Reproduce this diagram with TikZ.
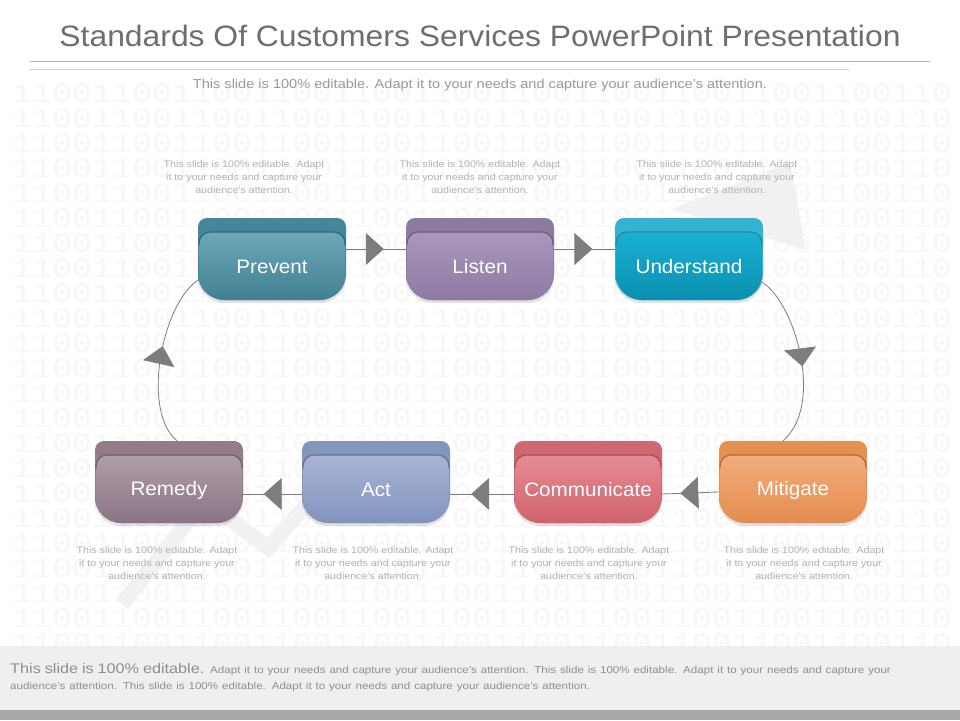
\documentclass[tikz,border=0pt]{standalone}
\usepackage{fontspec}
\setmainfont{Liberation Sans}
\newfontfamily\bitfont{Liberation Mono}
\usetikzlibrary{arrows.meta,decorations.markings,shadows}

\definecolor{titlegray}{HTML}{6E6E6E}
\definecolor{subgray}{HTML}{9A9A9A}
\definecolor{notegray}{HTML}{B2B2B2}
\definecolor{linkgray}{HTML}{7D7D7D}
\definecolor{footlight}{HTML}{EFEFEF}
\definecolor{footdark}{HTML}{A9A7A8}
\definecolor{footgray}{HTML}{8E8E8E}
\definecolor{trendgray}{HTML}{F1F1F1}

\definecolor{prevband}{HTML}{45879A}
\definecolor{prevlight}{HTML}{6CA8B9}
\definecolor{prevdark}{HTML}{437F92}
\definecolor{listband}{HTML}{8C7A9F}
\definecolor{listlight}{HTML}{AA98BC}
\definecolor{listdark}{HTML}{8D79A2}
\definecolor{undband}{HTML}{34B2D1}
\definecolor{undlight}{HTML}{19B1D3}
\definecolor{unddark}{HTML}{0B8FAF}
\definecolor{remband}{HTML}{937B8A}
\definecolor{remlight}{HTML}{B09EAA}
\definecolor{remdark}{HTML}{8B7383}
\definecolor{actband}{HTML}{8596BD}
\definecolor{actlight}{HTML}{A8B4D4}
\definecolor{actdark}{HTML}{8393BE}
\definecolor{comband}{HTML}{D06872}
\definecolor{comlight}{HTML}{E68B93}
\definecolor{comdark}{HTML}{D0626D}
\definecolor{mitband}{HTML}{E4904F}
\definecolor{mitlight}{HTML}{F2AD7C}
\definecolor{mitdark}{HTML}{E58C50}

% one coloured card: name, x, y, colour stem, label
\newcommand{\stepcard}[5]{%
  \path[fill=#4band, drop shadow={shadow xshift=0pt, shadow yshift=-3pt, opacity=0.22}]
    (#2-74,#3) [rounded corners=9pt] -- (#2-74,#3-41) -- (#2+74,#3-41) -- (#2+74,#3)
    [rounded corners=26pt] -- (#2+74,#3+41) -- (#2-74,#3+41) -- cycle;
  \path[top color=#4light, bottom color=#4dark]
    (#2-73,#3) [rounded corners=11pt] -- (#2-73,#3-27) -- (#2+73,#3-27) -- (#2+73,#3)
    [rounded corners=26pt] -- (#2+73,#3+41) -- (#2-73,#3+41) -- cycle;
  \draw[#4band!75!black, line width=1.2pt]
    (#2-73,#3-14) [rounded corners=11pt] -- (#2-73,#3-27) -- (#2+73,#3-27) -- (#2+73,#3-14);
  \node[cardslot] (#1) at (#2,#3) {};
  \node[cardtext] (#1-txt) at (#2,#3+8) {#5};
}

\begin{document}
\begin{tikzpicture}[x=1pt, y=-1pt,
    cardslot/.style={rectangle, minimum width=148pt, minimum height=82pt, inner sep=0pt},
    cardtext/.style={text=white, font=\fontsize{19.5}{22}\selectfont, xscale=1.06},
    note/.style={text=notegray, font=\fontsize{9.5}{13}\selectfont, align=center, xscale=1.12},
    bits/.style={text=black!3, font=\bitfont\fontsize{28}{28}\selectfont, anchor=west, inner sep=0pt, xscale=1.19},
    link/.style={draw=linkgray, fill=linkgray, line width=0.8pt},
    flowtip/.style={postaction={decorate}, decoration={markings,
        mark=at position #1 with {\arrow{Triangle[width=32pt,length=18pt]}}}}]
    \useasboundingbox (0,0) rectangle (960,720);
    \fill[white] (0,0) rectangle (960,720);

    % background digits and faint trend arrow
    \foreach \r in {0,...,22}
        \node[bits] at (12,93+\r*25) {11001100110011001100110011001100110011001100110};
    \draw[trendgray, line width=15pt, line join=miter] (122,604) -- (205,500) -- (268,548) -- (320,490);
    \fill[trendgray] (672,209) -- (790,162) -- (806,250) -- cycle;

    % heading
    \node[text=titlegray, font=\fontsize{29.5}{34}\selectfont, xscale=1.08] (title) at (480,36)
        {Standards Of Customers Services PowerPoint Presentation};
    \draw[black!32, line width=0.9pt] (30,61) -- (930,61);
    \draw[black!18, line width=0.9pt] (30,69) -- (849,69);
    \node[text=subgray, font=\fontsize{13}{15}\selectfont, xscale=1.12] (subtitle) at (480,85)
        {This slide is 100\% editable. Adapt it to your needs and capture your audience's attention.};

    % cards
    \stepcard{prevent}{272}{259}{prev}{Prevent}
    \stepcard{listen}{480}{259}{list}{Listen}
    \stepcard{understand}{689}{259}{und}{Understand}
    \stepcard{remedy}{169}{482}{rem}{Remedy}
    \stepcard{act}{376}{482}{act}{Act}
    \stepcard{communicate}{588}{482}{com}{Communicate}
    \stepcard{mitigate}{793}{482}{mit}{Mitigate}

    % connectors
    \draw[link, fill=none, flowtip=0.63] ([yshift=10pt]prevent.east) -- ([yshift=10pt]listen.west);
    \draw[link, fill=none, flowtip=0.63] ([yshift=10pt]listen.east) -- ([yshift=10pt]understand.west);
    \draw[link, fill=none, flowtip=0.55] ([xshift=-3pt,yshift=-22pt]understand.east)
        .. controls (795,300) and (825,405) .. ([xshift=-10pt]mitigate.north);
    \draw[link, fill=none, flowtip=0.68] ([yshift=-10pt]mitigate.west) -- ([yshift=-12pt]communicate.east);
    \draw[link, fill=none, flowtip=0.67] ([yshift=-12pt]communicate.west) -- ([yshift=-12pt]act.east);
    \draw[link, fill=none, flowtip=0.65] ([yshift=-12pt]act.west) -- ([yshift=-12pt]remedy.east);
    \draw[link, fill=none, flowtip=0.56] ([xshift=8pt]remedy.north)
        .. controls (140,410) and (163,300) .. ([xshift=2pt,yshift=-20pt]prevent.west);

    % notes
    \node[note] (prevent-note) at (244,177) {This slide is 100\% editable. Adapt\\it to your needs and capture your\\audience's attention.};
    \node[note] (listen-note) at (480,177) {This slide is 100\% editable. Adapt\\it to your needs and capture your\\audience's attention.};
    \node[note] (understand-note) at (717,177) {This slide is 100\% editable. Adapt\\it to your needs and capture your\\audience's attention.};
    \node[note] (remedy-note) at (157,563) {This slide is 100\% editable. Adapt\\it to your needs and capture your\\audience's attention.};
    \node[note] (act-note) at (373,563) {This slide is 100\% editable. Adapt\\it to your needs and capture your\\audience's attention.};
    \node[note] (communicate-note) at (589,563) {This slide is 100\% editable. Adapt\\it to your needs and capture your\\audience's attention.};
    \node[note] (mitigate-note) at (804,563) {This slide is 100\% editable. Adapt\\it to your needs and capture your\\audience's attention.};

    % footer
    \fill[footlight] (0,646) rectangle (960,710);
    \fill[footdark] (0,710) rectangle (960,720);
    \node[anchor=north west, inner sep=0pt, text width=800pt, align=left, text=footgray, xscale=1.16,
        font=\fontsize{10}{16}\selectfont] (footer) at (10,663)
        {{\fontsize{14}{16}\selectfont This slide is 100\% editable.} Adapt it to your needs and capture your audience's attention. This slide is 100\% editable. Adapt it to your needs and capture your\\
        audience's attention. This slide is 100\% editable. Adapt it to your needs and capture your audience's attention.};
\end{tikzpicture}
\end{document}
